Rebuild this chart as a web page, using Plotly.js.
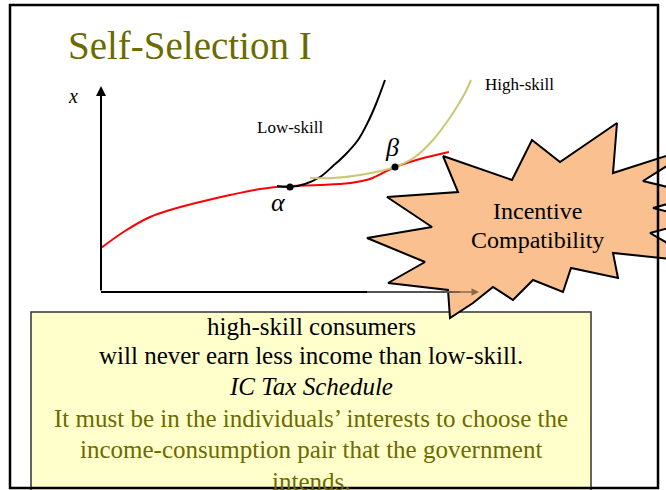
<!DOCTYPE html>
<html><head><meta charset="utf-8">
<script src="https://cdn.plot.ly/plotly-3.0.1.min.js"></script>
<style>html,body{margin:0;padding:0;background:#fff}#chart{width:666px;height:490px}</style>
</head><body><div id="chart"></div>
<script>
// Budget / tax schedule (red)
const scheduleX = [101, 125, 150, 170, 200, 230, 260, 290, 320, 350, 370, 395, 420, 449];
const scheduleY = [248, 231, 217, 210, 202, 195, 189, 186, 185, 183, 179, 167, 159, 152];
// Low-skill indifference curve (black)
const lowX = [277, 290, 305, 320, 333, 345, 358, 368, 376, 385];
const lowY = [186, 187, 184, 177, 166, 155, 140, 122, 104, 80];
// High-skill indifference curve (olive)
const highX = [310, 333, 360, 395, 415, 433, 453, 465, 471];
const highY = [178, 178, 175, 167, 157, 140, 113, 93, 80];
// Tangency points
const pointX = [290, 395];
const pointY = [187, 167];
const pointLabels = ["α", "β"];
// Starburst outline
const burstX = [443,512,532,560,617,613,700,643,700,653,700,650,700,613,618,571,563,533,513,493,473,450,448,388,425,367,432,387,458,443];
const burstY = [156,180,140,162,123,173,145,181,195,208,220,233,262,253,278,268,292,280,300,287,303,318,290,283,262,238,227,197,192,156];

const serif = "Liberation Serif, 'Times New Roman', serif";
const olive = "#6b6b00";

const traces = [
  {x: burstX, y: burstY, mode: "lines", fill: "toself", fillcolor: "#fac090",
   line: {color: "#000", width: 2}, hoverinfo: "skip"},
  {x: scheduleX, y: scheduleY, mode: "lines", line: {color: "#ff0000", width: 2, shape: "spline"}},
  {x: lowX, y: lowY, mode: "lines", line: {color: "#000", width: 2, shape: "spline"}},
  {x: highX, y: highY, mode: "lines", line: {color: "#c9c873", width: 2, shape: "spline"}},
  {x: pointX, y: pointY, mode: "markers", marker: {color: "#000", size: 7}}
];
// reorder so burst is on top of curves
traces.push(traces.shift());

const shapes = [
  {type: "rect", xref: "x", yref: "y", x0: 31, x1: 591, y0: 312, y1: 495,
   fillcolor: "#ffffcc", line: {color: "#333", width: 1.5}, layer: "below"},
  {type: "line", xref: "x", yref: "y", x0: 101, x1: 367, y0: 292, y1: 292, line: {color: "#000", width: 2}},
  {type: "line", xref: "x", yref: "y", x0: 367, x1: 460, y0: 292, y1: 292, line: {color: "#555", width: 2}},
  {type: "rect", xref: "x", yref: "y", x0: 10, x1: 658, y0: 5, y1: 488,
   line: {color: "#000", width: 2.5}, layer: "above"}
];

const ann = [];
function txt(t, x, y, size, color, extra) {
  ann.push(Object.assign({text: t, x: x, y: y, xref: "x", yref: "y", showarrow: false,
    xanchor: "center", yanchor: "middle", font: {family: serif, size: size, color: color}}, extra || {}));
}
txt("Self-Selection I", 190, 45, 39, olive);
txt("<i>x</i>", 73, 96, 20, "#000");
txt("Low-skill", 290, 127, 17, "#000");
txt("High-skill", 519, 84, 17, "#000");
txt("<i>" + pointLabels[0] + "</i>", 278, 202, 26, "#000");
txt("<i>" + pointLabels[1] + "</i>", 392, 147, 26, "#000");
txt("Incentive", 537, 211, 24, "#000");
txt("Compatibility", 537, 240, 24, "#000");
txt("high-skill consumers", 311, 326, 25, "#000");
txt("will never earn less income than low-skill.", 311, 355, 25, "#000");
txt("<i>IC Tax Schedule</i>", 311, 386, 25, "#000");
txt("It must be in the individuals’ interests to choose the", 311, 418, 25, olive);
txt("income-consumption pair that the government", 311, 449, 25, olive);
txt("intends.", 311, 481, 25, olive);
// axis arrows
ann.push({x: 101, y: 86, ax: 101, ay: 292, xref: "x", yref: "y", axref: "x", ayref: "y",
  text: "", showarrow: true, arrowhead: 2, arrowsize: 1, arrowwidth: 2, arrowcolor: "#000"});
ann.push({x: 479, y: 292, ax: 450, ay: 292, xref: "x", yref: "y", axref: "x", ayref: "y",
  text: "", showarrow: true, arrowhead: 2, arrowsize: 1, arrowwidth: 1.5, arrowcolor: "#8a6a45"});

const layout = {
  width: 666, height: 490, margin: {l: 0, r: 0, t: 0, b: 0},
  paper_bgcolor: "#fff", plot_bgcolor: "#fff", showlegend: false,
  xaxis: {range: [0, 666], visible: false, fixedrange: true},
  yaxis: {range: [490, 0], visible: false, fixedrange: true},
  shapes: shapes, annotations: ann
};
Plotly.newPlot("chart", traces, layout, {staticPlot: true, displayModeBar: false});
</script></body></html>
